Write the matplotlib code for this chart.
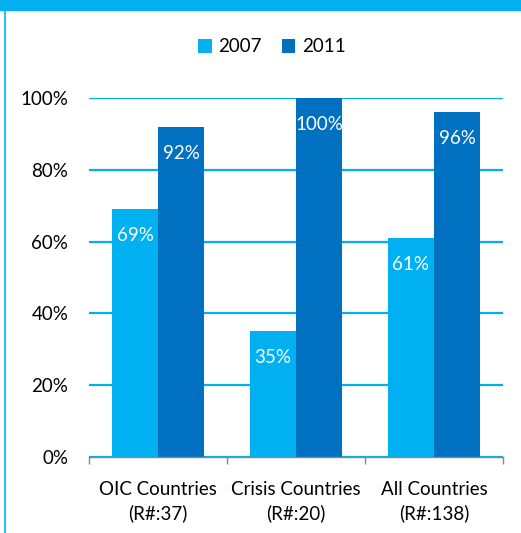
import matplotlib.pyplot as plt
import numpy as np
from matplotlib.patches import Rectangle

# survey groups and share of respondents per year
groups = ['OIC Countries\n(R#:37)', 'Crisis Countries\n(R#:20)', 'All Countries\n(R#:138)']
share_2007 = [69, 35, 61]
share_2011 = [92, 100, 96]
years = ['2007', '2011']

c07 = '#00B0F0'
c11 = '#0070C0'

plt.rcParams['font.family'] = ['Lato', 'DejaVu Sans']

fig = plt.figure(figsize=(5.21, 5.33), dpi=100)
ax = fig.add_axes([89/521, 1 - 457/533, 414/521, 359/533])

# frame: band along the top, thin rule down the left side
fig.patches.append(Rectangle((0, 1 - 10/533), 1, 10/533, transform=fig.transFigure,
                             color=c07, zorder=0))
fig.lines.append(plt.Line2D([4.5/521, 4.5/521], [0, 1], transform=fig.transFigure,
                            color=c07, lw=1.2))

x = np.arange(len(groups))
w = 1/3
b1 = ax.bar(x - w/2, np.array(share_2007) / 100, w, color=c07, label=years[0], zorder=2)
b2 = ax.bar(x + w/2, np.array(share_2011) / 100, w, color=c11, label=years[1], zorder=2)

for bars, vals in ((b1, share_2007), (b2, share_2011)):
    for rect, v in zip(bars, vals):
        ax.annotate(f'{v}%', (rect.get_x() + rect.get_width()/2, v / 100),
                    xytext=(0, -19), textcoords='offset points',
                    ha='center', va='center', color='white', fontsize=13.5, zorder=3)

ax.set_xlim(-0.5, 2.5)
ax.set_ylim(0, 1)
ax.set_yticks(np.arange(0, 1.01, 0.2))
ax.set_yticklabels([f'{int(round(t*100))}%' for t in np.arange(0, 1.01, 0.2)], fontsize=13.5)
ax.yaxis.grid(True, color=c07, lw=1.6, zorder=0)
ax.set_axisbelow(True)
ax.tick_params(axis='y', length=0, pad=15)

# category labels centred, ticks between groups
ax.set_xticks(x)
ax.set_xticklabels(groups, fontsize=13.5, linespacing=1.45)
ax.tick_params(axis='x', length=0, pad=17)
ax.set_xticks([-0.5, 0.5, 1.5, 2.5], minor=True)
ax.tick_params(axis='x', which='minor', length=5, color='#888888', width=1)

for s in ['top', 'right', 'left']:
    ax.spines[s].set_visible(False)
ax.spines['bottom'].set_color('#888888')
ax.spines['bottom'].set_linewidth(1)

fig.legend(loc='center', bbox_to_anchor=(272/521, 1 - 47/533), ncol=2, frameon=False,
           fontsize=13.5, handlelength=0.7, handleheight=0.7, handletextpad=0.35,
           columnspacing=1.1)

fig.savefig('out.png', dpi=100)
